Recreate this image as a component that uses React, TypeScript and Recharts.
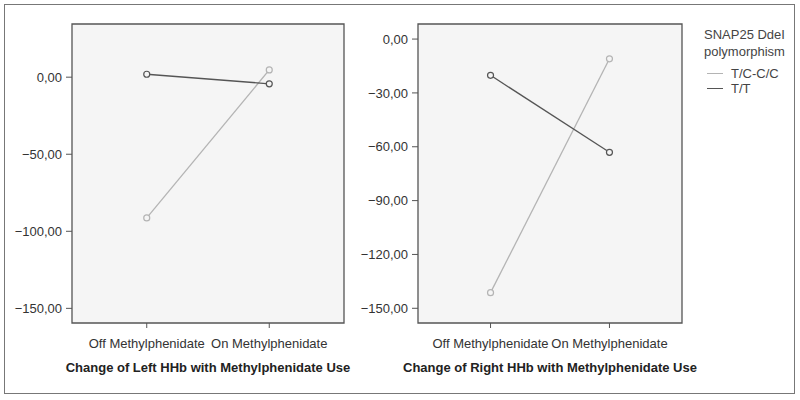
import React from 'react';
import { LineChart, Line, XAxis, YAxis, ReferenceArea, Legend } from 'recharts';

const phases = ['Off Methylphenidate', 'On Methylphenidate'];
const phaseIdx = [0, 1];

const leftTC = [-91.3, 4.7];
const leftTT = [1.9, -4.3];
const rightTC = [-141.3, -11.0];
const rightTT = [-20.2, -63.1];

const leftTicks = [-150, -100, -50, 0];
const rightTicks = [-150, -120, -90, -60, -30, 0];
const leftDomain: [number, number] = [-159.5, 34.5];
const rightDomain: [number, number] = [-158.2, 8.4];
const xDomain: [number, number] = [-0.61, 1.61];

const seriesNames = ['T/C-C/C', 'T/T'];
const seriesColors = ['#b4b4b4', '#555555'];
const legendTitle = ['SNAP25 DdeI', 'polymorphism'];

const leftTitle = 'Change of Left HHb with Methylphenidate Use';
const rightTitle = 'Change of Right HHb with Methylphenidate Use';

const FONT = '"Liberation Sans", Arial, Helvetica, sans-serif';

const build = (tc: number[], tt: number[]) =>
  phaseIdx.map((x, i) => ({ x, phase: phases[i], tc: tc[i], tt: tt[i] }));

const leftData = build(leftTC, leftTT);
const rightData = build(rightTC, rightTT);

const fmtY = (v: number) => v.toFixed(2).replace('.', ',').replace('-', '\u2212');
const fmtX = (v: number) => phases[Math.round(v)] ?? '';

const tickStyle = { fill: '#333', fontSize: 13, fontFamily: FONT };

function LegendBox() {
  return (
    <div style={{ fontFamily: FONT, fontSize: 13, color: '#444', width: 100 }}>
      {legendTitle.map((t) => (
        <div key={t} style={{ lineHeight: '16.5px', whiteSpace: 'nowrap' }}>{t}</div>
      ))}
      <div style={{ marginTop: 6 }}>
        {seriesNames.map((n, i) => (
          <div key={n} style={{ display: 'flex', alignItems: 'center', lineHeight: '15px', height: 15 }}>
            <span
              style={{
                display: 'inline-block',
                marginLeft: 3,
                width: 16,
                height: 0,
                borderTop: `1.3px solid ${seriesColors[i]}`,
                marginRight: 8,
              }}
            />
            <span>{n}</span>
          </div>
        ))}
      </div>
    </div>
  );
}

function Panel(props: {
  data: any[];
  width: number;
  yWidth: number;
  right: number;
  domain: [number, number];
  ticks: number[];
  title: string;
  legend?: boolean;
}) {
  const { data, width, yWidth, right, domain, ticks, title, legend } = props;
  return (
    <LineChart
      width={width}
      height={400}
      data={data}
      margin={{ top: 24, right, bottom: 0, left: 0 }}
      style={{ fontFamily: FONT }}
    >
      <ReferenceArea
        x1={xDomain[0]}
        x2={xDomain[1]}
        y1={domain[0]}
        y2={domain[1]}
        fill="#f5f5f5"
        fillOpacity={1}
        stroke="#555"
        strokeWidth={1.3}
        ifOverflow="visible"
      />
      <XAxis
        dataKey="x"
        type="number"
        domain={xDomain}
        ticks={phaseIdx}
        tickFormatter={fmtX}
        height={77}
        tickSize={5}
        tickMargin={11}
        axisLine={false}
        tickLine={{ stroke: '#555' }}
        tick={tickStyle}
        allowDataOverflow
        label={{
          value: title,
          position: 'insideBottom',
          offset: 28,
          style: { fontWeight: 'bold', fontSize: 13, fill: '#222', fontFamily: FONT },
        }}
      />
      <YAxis
        type="number"
        domain={domain}
        ticks={ticks}
        tickFormatter={fmtY}
        width={yWidth}
        tickSize={6}
        tickMargin={4}
        axisLine={false}
        tickLine={{ stroke: '#555' }}
        tick={tickStyle}
        allowDataOverflow
      />
      {legend && (
        <Legend
          layout="horizontal"
          align="center"
          verticalAlign="middle"
          content={() => <LegendBox />}
          wrapperStyle={{ position: 'absolute', left: width - right + 22, top: 27, width: 100, height: 90 }}
        />
      )}
      <Line
        dataKey="tc"
        name={seriesNames[0]}
        stroke={seriesColors[0]}
        strokeWidth={1.3}
        dot={{ r: 3, fill: '#f5f5f5', stroke: seriesColors[0], strokeWidth: 1.2 }}
        isAnimationActive={false}
      />
      <Line
        dataKey="tt"
        name={seriesNames[1]}
        stroke={seriesColors[1]}
        strokeWidth={1.3}
        dot={{ r: 3, fill: '#f5f5f5', stroke: seriesColors[1], strokeWidth: 1.2 }}
        isAnimationActive={false}
      />
    </LineChart>
  );
}

export default function App() {
  return (
    <div style={{ position: 'absolute', left: 0, top: 0, width: 800, height: 400, background: '#fff' }}>
      <div
        style={{
          position: 'absolute',
          left: 4,
          top: 4,
          width: 789,
          height: 388,
          border: '1.5px solid #777',
        }}
      />
      <div style={{ position: 'absolute', left: 0, top: 0 }}>
        <Panel data={leftData} width={360} yWidth={72} right={16} domain={leftDomain} ticks={leftTicks} title={leftTitle} />
      </div>
      <div style={{ position: 'absolute', left: 360, top: 0 }}>
        <Panel
          data={rightData}
          width={440}
          yWidth={58}
          right={118}
          domain={rightDomain}
          ticks={rightTicks}
          title={rightTitle}
          legend
        />
      </div>
    </div>
  );
}
